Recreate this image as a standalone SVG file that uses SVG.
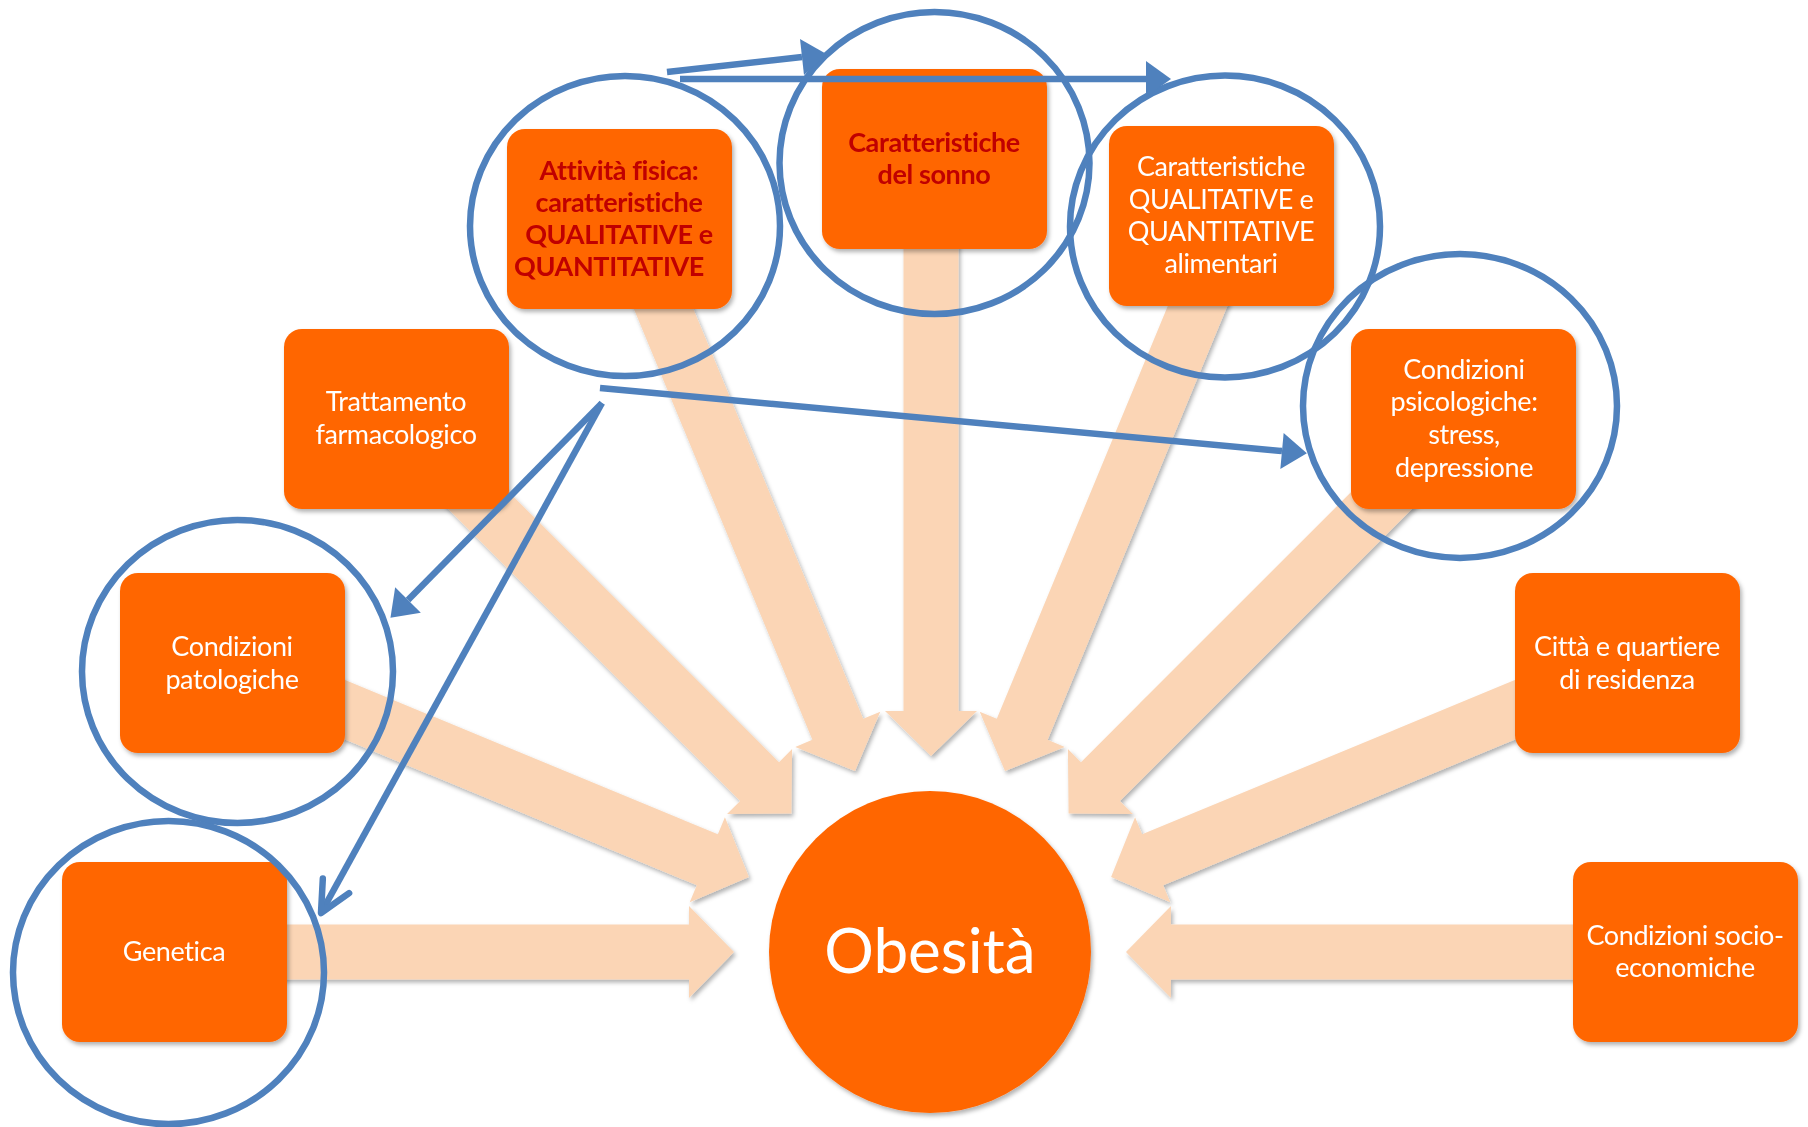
<svg xmlns="http://www.w3.org/2000/svg" width="1808" height="1127" viewBox="0 0 1808 1127">
<defs>
<style>
.box{fill:#FF6600;}
.lbl{font-family:Lato,'Liberation Sans',sans-serif;font-size:27px;letter-spacing:-0.4px;fill:#FFFFFF;text-anchor:middle;}
.red{fill:#C00000;font-weight:bold;}
.ring{fill:none;stroke:#4F81BD;stroke-width:6.5;}
.blk{fill:#FBD5B5;}
.link{stroke:#4F81BD;stroke-width:6.5;fill:none;}
</style>
<filter id="sh" x="-10%" y="-10%" width="130%" height="130%"><feDropShadow dx="2" dy="3" stdDeviation="2" flood-color="#000000" flood-opacity="0.3"/></filter>
<path id="arr" d="M-560,-27.5 L-45,-27.5 L-45,-46 L0,0 L-45,46 L-45,27.5 L-560,27.5 Z"/>
<marker id="tri" markerUnits="userSpaceOnUse" markerWidth="30" markerHeight="40" refX="0" refY="18" orient="auto" overflow="visible"><path d="M0,0 L25,18 L0,36 Z" fill="#4F81BD"/></marker>
<marker id="open" markerUnits="userSpaceOnUse" markerWidth="40" markerHeight="40" refX="32" refY="18" orient="auto" overflow="visible"><path d="M1,3 L32,18 L1,33" fill="none" stroke="#4F81BD" stroke-width="6.5" stroke-linecap="round" stroke-linejoin="round"/></marker>
</defs>
<rect width="1808" height="1127" fill="#FFFFFF"/>
<g id="connectors-radial" class="blk" filter="url(#sh)">
<use href="#arr" transform="translate(734,952)"/>
<use href="#arr" transform="translate(748.9,877) rotate(22.5)"/>
<use href="#arr" transform="translate(791.4,813.4) rotate(45)"/>
<use href="#arr" transform="translate(855,770.9) rotate(67.5)"/>
<use href="#arr" transform="translate(931,756) rotate(90)"/>
<use href="#arr" transform="translate(1005,770.9) rotate(112.5)"/>
<use href="#arr" transform="translate(1068.6,813.4) rotate(135)"/>
<use href="#arr" transform="translate(1111.1,877) rotate(157.5)"/>
<use href="#arr" transform="translate(1126,952) rotate(180)"/>
</g>
<g id="node-obesita">
<circle cx="930" cy="952" r="161" class="box" filter="url(#sh)"/>
<text x="930" y="973" class="lbl" style="font-size:62px;letter-spacing:0">Obesità</text>
</g>
<g id="node-attivita">
<rect x="507" y="129" width="225" height="180" rx="18" class="box" filter="url(#sh)"/>
<text class="lbl red"><tspan x="619" y="180">Attività fisica:</tspan><tspan x="619" y="212">caratteristiche</tspan><tspan x="619" y="244">QUALITATIVE e</tspan><tspan x="609" y="276">QUANTITATIVE</tspan></text>
</g>
<g id="node-sonno">
<rect x="822" y="69" width="225" height="180" rx="18" class="box" filter="url(#sh)"/>
<text class="lbl red"><tspan x="934" y="152">Caratteristiche</tspan><tspan x="934" y="184">del sonno</tspan></text>
</g>
<g id="node-alimentari">
<rect x="1109" y="126" width="225" height="180" rx="18" class="box" filter="url(#sh)"/>
<text class="lbl"><tspan x="1221" y="176">Caratteristiche</tspan><tspan x="1221" y="209">QUALITATIVE e</tspan><tspan x="1221" y="241">QUANTITATIVE</tspan><tspan x="1221" y="273">alimentari</tspan></text>
</g>
<g id="node-trattamento">
<rect x="284" y="329" width="225" height="180" rx="18" class="box" filter="url(#sh)"/>
<text class="lbl"><tspan x="396" y="411">Trattamento</tspan><tspan x="396" y="444">farmacologico</tspan></text>
</g>
<g id="node-psicologiche">
<rect x="1351" y="329" width="225" height="180" rx="18" class="box" filter="url(#sh)"/>
<text class="lbl"><tspan x="1464" y="379">Condizioni</tspan><tspan x="1464" y="411">psicologiche:</tspan><tspan x="1464" y="444">stress,</tspan><tspan x="1464" y="477">depressione</tspan></text>
</g>
<g id="node-patologiche">
<rect x="120" y="573" width="225" height="180" rx="18" class="box" filter="url(#sh)"/>
<text class="lbl"><tspan x="232" y="656">Condizioni</tspan><tspan x="232" y="689">patologiche</tspan></text>
</g>
<g id="node-citta">
<rect x="1515" y="573" width="225" height="180" rx="18" class="box" filter="url(#sh)"/>
<text class="lbl"><tspan x="1627" y="656">Città e quartiere</tspan><tspan x="1627" y="689">di residenza</tspan></text>
</g>
<g id="node-genetica">
<rect x="62" y="862" width="225" height="180" rx="18" class="box" filter="url(#sh)"/>
<text class="lbl" x="174" y="961">Genetica</text>
</g>
<g id="node-socio">
<rect x="1573" y="862" width="225" height="180" rx="18" class="box" filter="url(#sh)"/>
<text class="lbl"><tspan x="1685" y="945">Condizioni socio-</tspan><tspan x="1685" y="977">economiche</tspan></text>
</g>
<g id="highlights" class="ring">
<ellipse cx="625" cy="226" rx="155" ry="150"/>
<ellipse cx="934.5" cy="163" rx="155" ry="151"/>
<ellipse cx="1225" cy="226.5" rx="155" ry="151"/>
<ellipse cx="1460" cy="406" rx="157" ry="152"/>
<ellipse cx="237.5" cy="671.5" rx="155.5" ry="151.5"/>
<ellipse cx="168.5" cy="972.5" rx="155.5" ry="151.5"/>
</g>
<g id="connectors-links" class="link">
<line x1="667" y1="72" x2="802" y2="57" marker-end="url(#tri)"/>
<line x1="680" y1="79" x2="1146" y2="79" marker-end="url(#tri)"/>
<line x1="600" y1="388" x2="1282" y2="451" marker-end="url(#tri)"/>
<line x1="602" y1="403" x2="408" y2="600" marker-end="url(#tri)"/>
<line x1="602" y1="403" x2="321" y2="913" marker-end="url(#open)"/>
</g>
</svg>
